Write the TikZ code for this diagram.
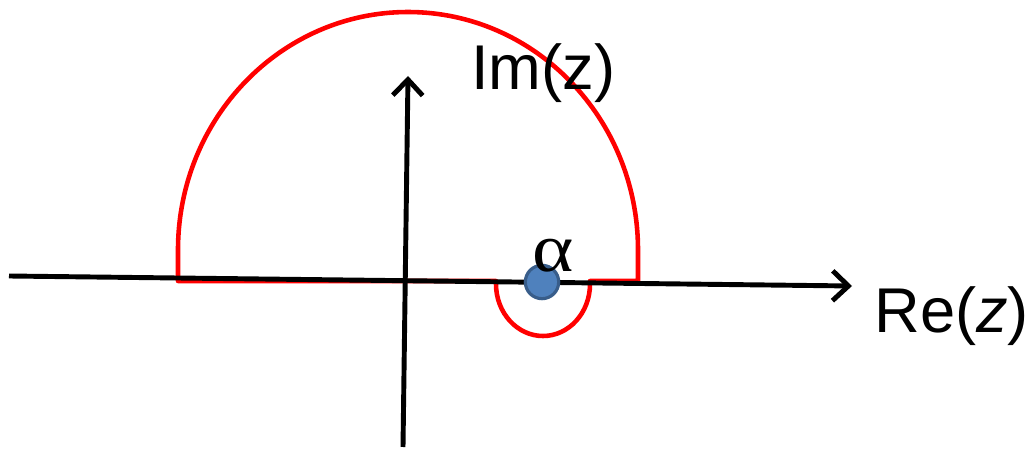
\documentclass[tikz,border=0pt]{standalone}
\usepackage{fontspec}
\setmainfont{Liberation Sans}
\newfontfamily\serifalpha{Liberation Serif}
\usetikzlibrary{arrows.meta}
\definecolor{contred}{RGB}{255,0,0}
\definecolor{dotfill}{RGB}{79,129,189}
\definecolor{dotedge}{RGB}{56,93,138}
\tikzset{
  axis/.style={line width=2.8pt, -{Straight Barb[length=9pt,width=17pt,line width=2.8pt]}},
  contour/.style={draw=contred, line width=2.6pt, line join=round},
  pole/.style={circle, fill=dotfill, draw=dotedge, line width=1.8pt, minimum size=19pt, inner sep=0pt},
  lbl/.style={inner sep=0pt, anchor=base west, font=\fontsize{36}{40}\selectfont}
}
\begin{document}
\begin{tikzpicture}[x=0.02cm,y=0.02cm]
\useasboundingbox (0,0) rectangle (1032,450);
% contour
\draw[contour] (178,169) -- (178,200) arc[start angle=180, end angle=0, x radius=230, y radius=238]
  -- (638,169) -- (590,169) -- (590,166) arc[start angle=0, end angle=-180, x radius=47, y radius=52]
  -- (496,169) -- cycle;
% axes
\coordinate (xl) at (9,174);
\coordinate (xr) at (852,164);
\coordinate (yb) at (403,3);
\coordinate (yt) at (408,374);
\draw[axis] (xl) -- (xr);
\draw[axis] (yb) -- (yt);
% pole
\node[pole] (alpha) at (542,168) {};
\node[inner sep=0pt, xscale=1.15, font=\serifalpha\fontsize{39}{42}\selectfont] (alab) at (553,194) {α};
% labels
\node[lbl] (im) at (471,360) {Im(z)};
\node[lbl] (re) at (874,117) {Re(\textit{z})};
\end{tikzpicture}
\end{document}
